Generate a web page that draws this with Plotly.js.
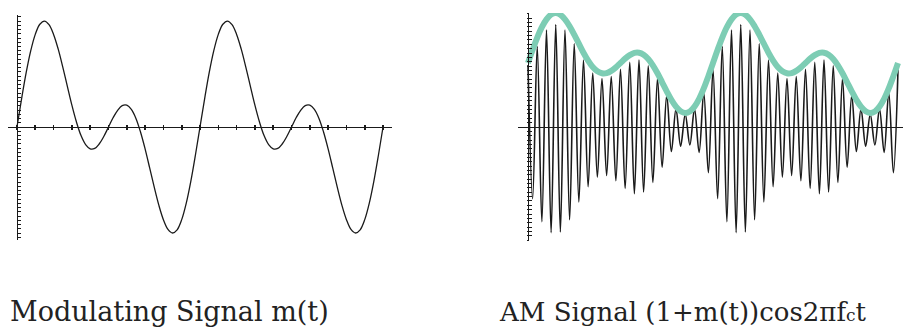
<!DOCTYPE html>
<html>
<head>
<meta charset="utf-8">
<script src="https://cdn.plot.ly/plotly-3.0.1.min.js"></script>
<style>html,body{margin:0;padding:0;background:#fff;}#chart{width:905px;height:327px;}</style>
</head>
<body>
<div id="chart"></div>
<script>
// time samples (two modulation periods, t = 0 .. 20)
const timeT = [0,0.25,0.5,0.75,1,1.25,1.5,1.75,2,2.25,2.5,2.75,3,3.25,3.5,3.75,4,4.25,4.5,4.75,
  5,5.25,5.5,5.75,6,6.25,6.5,6.75,7,7.25,7.5,7.75,8,8.25,8.5,8.75,9,9.25,9.5,9.75,
  10,10.25,10.5,10.75,11,11.25,11.5,11.75,12,12.25,12.5,12.75,13,13.25,13.5,13.75,14,14.25,14.5,14.75,
  15,15.25,15.5,15.75,16,16.25,16.5,16.75,17,17.25,17.5,17.75,18,18.25,18.5,18.75,19,19.25,19.5,19.75,20];

// modulating signal m(t)
const mValues = [0,0.264,0.510,0.718,0.874,0.970,1.000,0.966,0.874,0.737,0.568,0.386,0.206,0.047,-0.081,-0.166,-0.206,-0.202,-0.158,-0.087,
  0,0.087,0.158,0.202,0.206,0.166,0.081,-0.047,-0.206,-0.386,-0.568,-0.737,-0.874,-0.966,-1.000,-0.970,-0.874,-0.718,-0.510,-0.264,
  0,0.264,0.510,0.718,0.874,0.970,1.000,0.966,0.874,0.737,0.568,0.386,0.206,0.047,-0.081,-0.166,-0.206,-0.202,-0.158,-0.087,
  0,0.087,0.158,0.202,0.206,0.166,0.081,-0.047,-0.206,-0.386,-0.568,-0.737,-0.874,-0.966,-1.000,-0.970,-0.874,-0.718,-0.510,-0.264,0];

// envelope (green curve) of the AM signal
const envelope = [1.000,1.206,1.398,1.560,1.682,1.757,1.780,1.753,1.682,1.575,1.443,1.301,1.161,1.037,0.937,0.871,0.839,0.842,0.877,0.932,
  1.000,1.068,1.123,1.158,1.161,1.129,1.063,0.963,0.839,0.699,0.557,0.425,0.318,0.247,0.220,0.243,0.318,0.440,0.602,0.794,
  1.000,1.206,1.398,1.560,1.682,1.757,1.780,1.753,1.682,1.575,1.443,1.301,1.161,1.037,0.937,0.871,0.839,0.842,0.877,0.932,
  1.000,1.068,1.123,1.158,1.161,1.129,1.063,0.963,0.839,0.699,0.557,0.425,0.318,0.247,0.220,0.243,0.318,0.440,0.602,0.794,1.000];

// AM carrier swings (alternating peaks)
const amPeaks = [0.970,-1.120,1.258,-1.480,1.514,-1.650,1.602,-1.640,1.514,-1.450,1.299,-1.171,1.045,-0.933,0.843,-0.784,0.755,-0.758,0.789,-0.839,
  0.900,-0.961,1.011,-1.042,1.045,-1.016,0.957,-0.867,0.755,-0.629,0.501,-0.383,0.286,-0.300,0.198,-0.280,0.286,-0.396,0.542,-0.715,
  0.900,-1.120,1.258,-1.480,1.514,-1.650,1.602,-1.640,1.514,-1.450,1.299,-1.171,1.045,-0.933,0.843,-0.784,0.755,-0.758,0.789,-0.839,
  0.900,-0.961,1.011,-1.042,1.045,-1.016,0.957,-0.867,0.755,-0.629,0.501,-0.383,0.286,-0.300,0.198,-0.280,0.286,-0.396,0.542,-0.715,0.900];

const titleLeft = 'Modulating Signal m(t)';
const titleRight = 'AM Signal (1+m(t))cos2\u03c0f<span style="font-size:17px">c</span>t';

const W = 905, H = 327;
const ink = '#1a1a1a';
const green = '#7dcdb4';

const traces = [
  {x: timeT, y: mValues, xaxis: 'x', yaxis: 'y', mode: 'lines',
   line: {color: ink, width: 1.3, shape: 'spline', smoothing: 1}, hoverinfo: 'skip'},
  {x: timeT, y: amPeaks, xaxis: 'x2', yaxis: 'y2', mode: 'lines',
   line: {color: ink, width: 1.6, shape: 'spline', smoothing: 1}, hoverinfo: 'skip'},
  {x: timeT, y: envelope, xaxis: 'x2', yaxis: 'y2', mode: 'lines',
   line: {color: green, width: 6, shape: 'spline', smoothing: 1}, hoverinfo: 'skip'}
];

const axisY0 = (H - 127) / H;
const common = {showgrid: false, zeroline: false, showticklabels: false, fixedrange: true};

const layout = {
  width: W, height: H,
  margin: {l: 0, r: 0, t: 0, b: 0},
  paper_bgcolor: '#ffffff', plot_bgcolor: 'rgba(0,0,0,0)',
  showlegend: false,
  xaxis: Object.assign({}, common, {domain: [8 / W, 392 / W], range: [-0.49, 20.49],
    anchor: 'free', position: axisY0, showline: true, linecolor: ink, linewidth: 1.3,
    ticks: 'outside', ticklen: 2, tickwidth: 1.6, tickcolor: ink, tick0: 0, dtick: 1}),
  xaxis3: Object.assign({}, common, {domain: [8 / W, 392 / W], range: [-0.49, 20.49], overlaying: 'x',
    anchor: 'free', position: axisY0, showline: false,
    ticks: 'inside', ticklen: 2, tickwidth: 1.6, tickcolor: ink, tick0: 0, dtick: 1}),
  yaxis: Object.assign({}, common, {domain: [(H - 240) / H, (H - 15) / H], range: [-1.066, 1.057],
    anchor: 'free', position: 17 / W, showline: true, linecolor: ink, linewidth: 1.3,
    ticks: 'inside', ticklen: 2.5, tickwidth: 1, tickcolor: ink, tick0: 0, dtick: 0.04}),
  xaxis2: Object.assign({}, common, {domain: [518 / W, 903 / W], range: [-0.54, 20.27],
    anchor: 'free', position: axisY0, showline: true, linecolor: ink, linewidth: 1.3, ticks: ''}),
  yaxis2: Object.assign({}, common, {domain: [(H - 241) / H, (H - 13) / H], range: [-1.781, 1.781],
    anchor: 'free', position: 528 / W, showline: true, linecolor: ink, linewidth: 1.3,
    ticks: 'inside', ticklen: 2.5, tickwidth: 1, tickcolor: ink, tick0: 0, dtick: 0.068}),
  yaxis3: Object.assign({}, common, {domain: [(H - 241) / H, (H - 13) / H], range: [-1.781, 1.781], overlaying: 'y2',
    anchor: 'free', position: 528 / W, showline: false,
    ticks: 'outside', ticklen: 1.5, tickwidth: 1, tickcolor: ink, tick0: 0, dtick: 0.068}),
  annotations: [
    {text: titleLeft, xref: 'paper', yref: 'paper', x: 8 / W, y: 0, xanchor: 'left', yanchor: 'bottom',
     yshift: -1.5, showarrow: false, font: {family: 'DejaVu Serif', size: 27, color: '#222'}},
    {text: titleRight, xref: 'paper', yref: 'paper', x: 497 / W, y: 0, xanchor: 'left', yanchor: 'bottom',
     yshift: -1.5, showarrow: false, font: {family: 'DejaVu Serif', size: 26, color: '#222'}}
  ]
};

// invisible helper traces so overlay axes are drawn
traces.push({x: [0], y: [0], xaxis: 'x3', yaxis: 'y', mode: 'markers', marker: {opacity: 0}, hoverinfo: 'skip'});
traces.push({x: [0], y: [0], xaxis: 'x2', yaxis: 'y3', mode: 'markers', marker: {opacity: 0}, hoverinfo: 'skip'});

Plotly.newPlot('chart', traces, layout, {staticPlot: true, displayModeBar: false});
</script>
</body>
</html>
